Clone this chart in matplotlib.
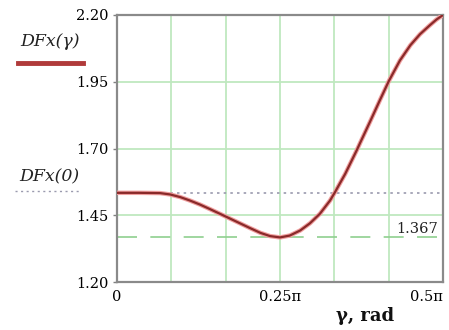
import numpy as np
import matplotlib
matplotlib.use("Agg")
import matplotlib.pyplot as plt

# gamma in units of pi, and DFx values
gamma_pi = [0.0, 0.033, 0.066, 0.0813, 0.097, 0.112, 0.1273, 0.1426, 0.1626, 0.185, 0.204, 0.22,
            0.2347, 0.25, 0.265, 0.281, 0.296, 0.311, 0.3267, 0.334, 0.35, 0.368,
            0.3727, 0.388, 0.4034, 0.417, 0.434, 0.45, 0.4647, 0.48, 0.49, 0.5]
dfx = [1.534, 1.534, 1.533, 1.528, 1.518, 1.505, 1.49, 1.473, 1.45, 1.424, 1.402, 1.384,
       1.372, 1.367, 1.374, 1.393, 1.42, 1.455, 1.505, 1.535, 1.605, 1.695,
       1.72, 1.80, 1.882, 1.953, 2.03, 2.087, 2.128, 2.162, 2.183, 2.20]
dfx0 = 1.534
dfx_min = 1.367
min_label = "1.367"
yticks = [1.20, 1.45, 1.70, 1.95, 2.20]
ytick_labels = ["1.20", "1.45", "1.70", "1.95", "2.20"]
xticks_pi = [0, 0.25, 0.5]
xtick_labels = ["0", "0.25π", "0.5π"]
xgrid_pi = [i / 12 for i in range(7)]

serif = ["DejaVu Serif"]

fig = plt.figure(figsize=(4.49, 3.30), dpi=100)
ax = fig.add_axes([117 / 449, 48 / 330, 326 / 449, 267 / 330])

x = np.array(gamma_pi) * np.pi
ax.set_xlim(0, 0.5 * np.pi)
ax.set_ylim(1.20, 2.20)

for g in xgrid_pi[1:-1]:
    ax.axvline(g * np.pi, color="#bfe8bf", lw=1.3, zorder=1)
for yv in yticks[1:-1]:
    ax.axhline(yv, color="#bfe8bf", lw=1.3, zorder=1)

ax.axhline(dfx0, color="#9a9aae", lw=1.2, ls=(0, (1.5, 2.5)), zorder=2)
ax.axhline(dfx_min, color="#8fcf8f", lw=1.2, ls=(0, (12, 8)), zorder=2)
ax.text(0.461 * np.pi, dfx_min + 0.006, min_label, ha="center", va="bottom",
        fontsize=10.5, family=serif, color="#222222", zorder=3)

ax.plot(x, dfx, color="#f0a0a0", lw=3.2, solid_capstyle="round", solid_joinstyle="round", zorder=3)
ax.plot(x, dfx, color="#8a2a2a", lw=1.6, solid_capstyle="round", solid_joinstyle="round", zorder=4)

ax.set_xticks(np.array(xticks_pi) * np.pi)
ax.set_xticklabels(xtick_labels, family=serif, fontsize=10.5)
ax.get_xticklabels()[-1].set_horizontalalignment("right")
ax.set_yticks(yticks)
ax.set_yticklabels(ytick_labels, family=serif, fontsize=10.5)
ax.tick_params(axis="both", length=3, width=1, color="#808080", pad=3)
ax.tick_params(axis="x", length=0, pad=6)

for s in ax.spines.values():
    s.set_color("#8a8a8a")
    s.set_linewidth(1.6)

fig.text(365 / 449, 1 - 316 / 330, "γ, rad", ha="center", va="center",
         fontsize=13, fontweight="bold", family=serif, color="#111111")

fig.text(50 / 449, 1 - 42 / 330, "DFx(γ)", ha="center", va="center",
         fontsize=12.5, style="italic", family=serif, color="#222222")
fig.add_artist(plt.Line2D([18 / 449, 83 / 449], [1 - 63 / 330, 1 - 63 / 330],
                          color="#b03a3a", lw=3.5, transform=fig.transFigure))
fig.text(49 / 449, 1 - 177 / 330, "DFx(0)", ha="center", va="center",
         fontsize=12.5, style="italic", family=serif, color="#222222")
fig.add_artist(plt.Line2D([15 / 449, 80 / 449], [1 - 191 / 330, 1 - 191 / 330],
                          color="#9a9aae", lw=1.0, ls=(0, (1.5, 2.5)),
                          transform=fig.transFigure))

fig.savefig("out.png", dpi=100)
